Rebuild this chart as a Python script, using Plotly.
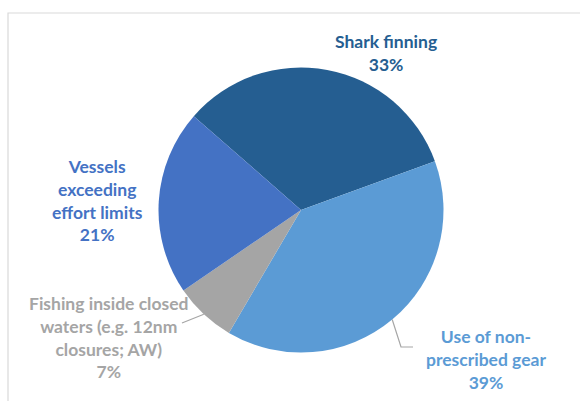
import math
import plotly.graph_objects as go

# ---- data ----
categories = ["Shark finning", "Use of non-prescribed gear",
              "Fishing inside closed waters (e.g. 12nm closures; AW)",
              "Vessels exceeding effort limits"]
label_lines = ["Shark finning",
               "Use of non-<br>prescribed gear",
               "Fishing inside closed<br>waters (e.g. 12nm<br>closures; AW)",
               "Vessels<br>exceeding<br>effort limits"]
values = [33, 39, 7, 21]
colors = ["#255E91", "#5B9BD5", "#A5A5A5", "#4472C4"]
text_colors = ["#255E91", "#5B9BD5", "#A5A5A5", "#4472C4"]

W, H = 580, 401
CX, CY, R = 301, 210, 142.5
ROT = -48.8  # start angle of first slice (deg clockwise from 12 o'clock)

def px(x):
    return x / W

def py(y):
    return 1 - y / H

fig = go.Figure(go.Pie(
    labels=categories, values=values, sort=False, direction="clockwise",
    rotation=ROT, marker=dict(colors=colors, line=dict(width=0)),
    textinfo="none", hoverinfo="label+percent", showlegend=False,
    domain=dict(x=[px(CX - R), px(CX + R)], y=[py(CY + R), py(CY - R)]),
))

# label positions (pixel centers of text blocks)
label_pos = [(386, 53), (486, 359), (109, 337), (97, 200)]
total = sum(values)
annotations = []
for i, (lx, ly) in enumerate(label_pos):
    pct = round(values[i] / total * 100)
    annotations.append(dict(
        x=px(lx), y=py(ly), xref="paper", yref="paper",
        text=f"<b>{label_lines[i]}<br>{pct}%</b>", showarrow=False,
        xanchor="center", yanchor="middle", align="center",
        font=dict(family="Lato", size=17.5, color=text_colors[i]),
    ))

# leader lines from slice mid-angles
def edge_point(idx):
    start = ROT + sum(values[:idx]) / total * 360
    mid = start + values[idx] / total * 360 / 2
    a = math.radians(mid)
    return CX + R * math.sin(a), CY - R * math.cos(a)

shapes = []
# Fishing inside closed waters
ex, ey = edge_point(2)
shapes.append(dict(type="path", xref="paper", yref="paper",
                   path=f"M {px(ex)},{py(ey)} L {px(182)},{py(323)}",
                   line=dict(color="#A6A6A6", width=1.2)))
# Use of non-prescribed gear
ex, ey = edge_point(1)
shapes.append(dict(type="path", xref="paper", yref="paper",
                   path=f"M {px(ex)},{py(ey)} L {px(401)},{py(347)} L {px(413)},{py(347)}",
                   line=dict(color="#A6A6A6", width=1.2)))
# chart border
shapes.append(dict(type="rect", xref="paper", yref="paper",
                   x0=px(8), y0=py(H + 10), x1=px(W + 10), y1=py(13),
                   line=dict(color="#D9D9D9", width=1.2)))

fig.update_layout(
    width=W, height=H, margin=dict(l=0, r=0, t=0, b=0),
    paper_bgcolor="white", plot_bgcolor="white",
    annotations=annotations, shapes=shapes,
)
fig.write_html("out.html", config={"displayModeBar": False},
               post_script="document.body.style.margin='0';document.body.style.padding='0';")
